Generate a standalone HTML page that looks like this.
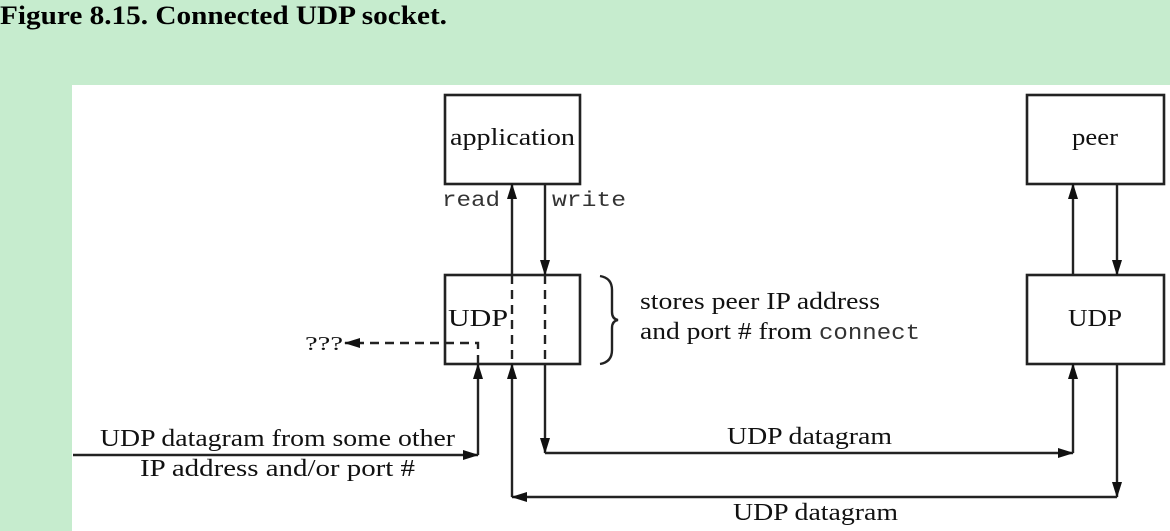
<!DOCTYPE html>
<html><head><style>
html,body{margin:0;padding:0;background:#c6ecce;}
body{width:1170px;height:531px;position:relative;overflow:hidden;}
svg{position:absolute;left:0;top:0;}
</style></head><body>
<svg width="1170" height="531" xmlns="http://www.w3.org/2000/svg">
<defs>
<marker id="a" markerWidth="16" markerHeight="10" refX="15" refY="5" orient="auto" markerUnits="userSpaceOnUse">
<path d="M0,0 L16,5 L0,10 Z" fill="#111"/></marker>
</defs>
<text x="0" y="24" font-family="Liberation Serif,serif" font-weight="bold" font-size="26" textLength="447" lengthAdjust="spacingAndGlyphs">Figure 8.15. Connected UDP socket.</text>
<rect x="72" y="85" width="1098" height="446" fill="#fff"/>
<g stroke="#222" stroke-width="2.6" fill="none">
<rect x="445" y="95" width="135" height="89"/>
<rect x="445" y="275" width="135" height="89"/>
<rect x="1027" y="95" width="137" height="89"/>
<rect x="1027" y="275" width="137" height="89"/>
</g>
<g stroke="#222" stroke-width="2.4" fill="none">
<line x1="512" y1="497" x2="512" y2="364" marker-end="url(#a)"/>
<line x1="512" y1="275" x2="512" y2="184" marker-end="url(#a)"/>
<line x1="512" y1="275" x2="512" y2="364" stroke-dasharray="9,6"/>
<line x1="545" y1="184" x2="545" y2="275" marker-end="url(#a)"/>
<line x1="545" y1="275" x2="545" y2="364" stroke-dasharray="9,6"/>
<polyline points="545,364 545,453" marker-end="url(#a)"/>
<polyline points="545,453 1073,453" marker-end="url(#a)"/>
<line x1="1073" y1="453" x2="1073" y2="364" marker-end="url(#a)"/>
<line x1="1073" y1="275" x2="1073" y2="184" marker-end="url(#a)"/>
<line x1="1117" y1="184" x2="1117" y2="275" marker-end="url(#a)"/>
<line x1="1117" y1="364" x2="1117" y2="497" marker-end="url(#a)"/>
<line x1="1117" y1="497" x2="512" y2="497" marker-end="url(#a)"/>
<line x1="73" y1="455" x2="478" y2="455" marker-end="url(#a)"/>
<line x1="478" y1="455" x2="478" y2="364" marker-end="url(#a)"/>
<polyline points="478,364 478,343 345,343" stroke-dasharray="9,6" marker-end="url(#a)"/>
<path d="M600,276 Q612,278 612,290 L612,312 Q612,319 618,320 Q612,321 612,328 L612,350 Q612,362 600,364"/>
</g>
<g font-family="Liberation Serif,serif" font-size="24" fill="#111">
<text x="450" y="145" textLength="125" lengthAdjust="spacingAndGlyphs">application</text>
<text x="1072" y="145" textLength="46" lengthAdjust="spacingAndGlyphs">peer</text>
<text x="448" y="326" textLength="60" lengthAdjust="spacingAndGlyphs">UDP</text>
<text x="1068" y="326" textLength="54" lengthAdjust="spacingAndGlyphs">UDP</text>
<text x="640" y="309" textLength="240" lengthAdjust="spacingAndGlyphs">stores peer IP address</text>
<text x="640" y="339" textLength="172" lengthAdjust="spacingAndGlyphs">and port # from</text>
<text x="819" y="339" font-family="Liberation Mono,monospace" font-size="22" fill="#333" textLength="101" lengthAdjust="spacingAndGlyphs">connect</text>
<text x="305" y="350" font-size="20" textLength="38" lengthAdjust="spacingAndGlyphs">???</text>
<text x="100" y="446" textLength="355" lengthAdjust="spacingAndGlyphs">UDP datagram from some other</text>
<text x="140" y="476" textLength="275" lengthAdjust="spacingAndGlyphs">IP address and/or port #</text>
<text x="727" y="444" textLength="165" lengthAdjust="spacingAndGlyphs">UDP datagram</text>
<text x="733" y="520" textLength="165" lengthAdjust="spacingAndGlyphs">UDP datagram</text>
</g>
<g font-family="Liberation Mono,monospace" font-size="21" fill="#333">
<text x="442" y="206" textLength="58" lengthAdjust="spacingAndGlyphs">read</text>
<text x="552" y="206" textLength="74" lengthAdjust="spacingAndGlyphs">write</text>
</g>
</svg>
</body></html>
